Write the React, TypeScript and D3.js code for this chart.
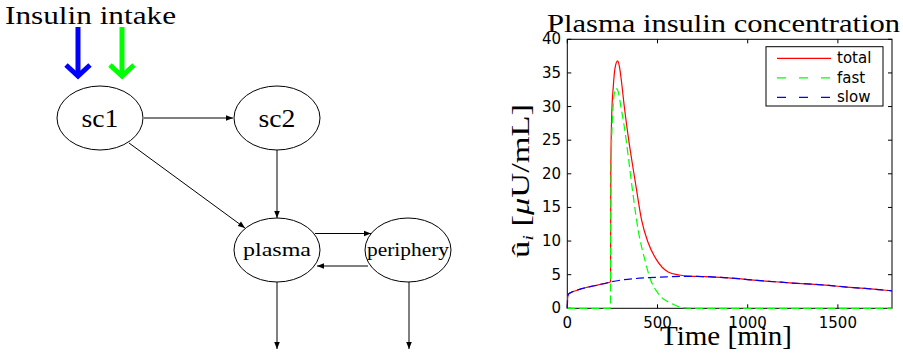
import React from "react";
import * as d3 from "d3";

// ---- Data ----
const totalT = [0, 2, 6, 20, 50, 100, 150, 200, 238, 240, 241, 246, 255, 265, 279, 290, 300, 316, 338, 366, 384, 412, 449, 495, 559, 620, 670, 720, 750, 850, 950, 1050, 1150, 1250, 1350, 1450, 1550, 1650, 1750, 1800];
const totalV = [0, 1.6, 2.1, 2.35, 2.65, 3.05, 3.35, 3.65, 3.9, 3.95, 20, 28.5, 33, 35.8, 36.8, 35.8, 33.8, 30, 25.5, 20.6, 17.6, 13.1, 9.7, 7.2, 5.4, 4.95, 4.78, 4.75, 4.72, 4.6, 4.4, 4.15, 3.95, 3.75, 3.6, 3.4, 3.15, 2.95, 2.72, 2.6];

const fastT = [0, 100, 200, 239, 241, 245, 252, 260, 268, 280, 297, 316, 329, 347, 366, 393, 430, 458, 504, 578, 633, 700, 1000, 1500, 1800];
const fastV = [0, 0, 0, 0, 15, 24, 29, 31.8, 32.7, 32.4, 30, 27, 24.5, 20.6, 16.6, 11.6, 7.2, 4.5, 2.2, 0.7, 0.15, 0, 0, 0, 0];

const slowT = [0, 2, 6, 20, 50, 100, 150, 200, 240, 300, 360, 450, 550, 650, 750, 850, 950, 1050, 1150, 1250, 1350, 1450, 1550, 1650, 1750, 1800];
const slowV = [0, 1.6, 2.1, 2.35, 2.65, 3.05, 3.35, 3.65, 3.92, 4.2, 4.38, 4.55, 4.68, 4.75, 4.72, 4.6, 4.4, 4.15, 3.95, 3.75, 3.6, 3.4, 3.15, 2.95, 2.72, 2.6];

const xTicks = [0, 500, 1000, 1500];
const yTicks = [0, 5, 10, 15, 20, 25, 30, 35, 40];
const legendLabels = ["total", "fast", "slow"];
const seriesColors = ["#ff0000", "#00ff00", "#0000ff"];

const nodes = [
  { id: "sc1", label: "sc1", cx: 100, cy: 118, size: 26, len: 37 },
  { id: "sc2", label: "sc2", cx: 277, cy: 118, size: 26, len: 37 },
  { id: "plasma", label: "plasma", cx: 277, cy: 250, size: 19, len: 68 },
  { id: "periphery", label: "periphery", cx: 408, cy: 250, size: 18, len: 82 },
];

const serif = "'Liberation Serif', 'Times New Roman', serif";
const sans = "'DejaVu Sans', 'Liberation Sans', Arial, sans-serif";

export default function App() {
  const x = d3.scaleLinear().domain([0, 1800]).range([567.3, 892]);
  const y = d3.scaleLinear().domain([0, 40]).range([308.3, 39.3]);
  const [x0, x1] = x.range();
  const [y0, y1] = y.range();

  const line = d3
    .line<[number, number]>()
    .x((d) => x(d[0]))
    .y((d) => y(d[1]))
    .curve(d3.curveMonotoneX);

  const series = [
    { pts: totalT.map((t, i) => [t, totalV[i]] as [number, number]), dash: undefined },
    { pts: fastT.map((t, i) => [t, fastV[i]] as [number, number]), dash: "8,4" },
    { pts: slowT.map((t, i) => [t, slowV[i]] as [number, number]), dash: "8,4" },
  ];

  const tick = 4;

  return (
    <svg
      width={903}
      height={353}
      style={{ position: "absolute", left: 0, top: 0, background: "#fff" }}
    >
      <defs>
        <marker id="ah" viewBox="0 0 10 10" refX="10" refY="5" markerWidth="9" markerHeight="7" markerUnits="userSpaceOnUse" orient="auto">
          <path d="M0,1 L10,5 L0,9 z" fill="#000" />
        </marker>
      </defs>
      <rect x={0} y={0} width={903} height={353} fill="#fff" />

      {/* ---------- Diagram ---------- */}
      <text x={5} y={24} fontFamily={serif} fontSize={25} textLength={171} lengthAdjust="spacingAndGlyphs" fill="#000">
        Insulin intake
      </text>
      {[{ cx: 78, c: "#0000ff" }, { cx: 122, c: "#00ff00" }].map((a, i) => (
        <g key={i} stroke={a.c} strokeWidth={5} fill="none">
          <line x1={a.cx} y1={27} x2={a.cx} y2={75} />
          <polyline points={`${a.cx - 12},65 ${a.cx},76 ${a.cx + 12},65`} strokeLinejoin="miter" />
        </g>
      ))}

      {nodes.map((n) => (
        <g key={n.id}>
          <ellipse cx={n.cx} cy={n.cy} rx={43} ry={32} fill="#fff" stroke="#000" strokeWidth={1} />
          <text
            x={n.cx}
            y={n.cy + (n.size > 20 ? 9 : 6)}
            textAnchor="middle"
            fontFamily={serif}
            fontSize={n.size}
            textLength={n.len}
            lengthAdjust="spacingAndGlyphs"
            fill="#000"
          >
            {n.label}
          </text>
        </g>
      ))}

      <g stroke="#000" strokeWidth={1} markerEnd="url(#ah)">
        <line x1={144} y1={118} x2={233} y2={118} />
        <line x1={129} y1={143} x2={245} y2={228} />
        <line x1={277} y1={150} x2={277} y2={218} />
        <line x1={315} y1={233.5} x2={371} y2={233.5} />
        <line x1={368} y1={266} x2={317} y2={266} />
        <line x1={277} y1={282} x2={277} y2={349} />
        <line x1={409} y1={282} x2={409} y2={349} />
      </g>

      {/* ---------- Chart ---------- */}
      <text x={547} y={32} fontFamily={serif} fontSize={26} textLength={353} lengthAdjust="spacingAndGlyphs" fill="#000">
        Plasma insulin concentration
      </text>

      <rect x={x0} y={y1} width={x1 - x0} height={y0 - y1} fill="#fff" stroke="#000" strokeWidth={1} />

      {xTicks.map((t) => (
        <g key={"xt" + t}>
          <line x1={x(t)} x2={x(t)} y1={y0} y2={y0 - tick} stroke="#000" />
          <line x1={x(t)} x2={x(t)} y1={y1} y2={y1 + tick} stroke="#000" />
          <text x={x(t)} y={328} textAnchor="middle" fontFamily={sans} fontSize={15} fill="#000">
            {t}
          </text>
        </g>
      ))}
      {yTicks.map((t) => (
        <g key={"yt" + t}>
          <line x1={x0} x2={x0 + tick} y1={y(t)} y2={y(t)} stroke="#000" />
          <line x1={x1} x2={x1 - tick} y1={y(t)} y2={y(t)} stroke="#000" />
          <text x={561} y={y(t) + 5} textAnchor="end" fontFamily={sans} fontSize={15} fill="#000">
            {t}
          </text>
        </g>
      ))}

      {series.map((s, i) => (
        <path
          key={"s" + i}
          d={line(s.pts) || ""}
          fill="none"
          stroke={seriesColors[i]}
          strokeWidth={1.2}
          strokeDasharray={s.dash}
        />
      ))}

      {/* Legend */}
      <rect x={766} y={46.7} width={117} height={59.3} fill="#fff" stroke="#000" strokeWidth={1} />
      {legendLabels.map((lab, i) => {
        const ly = 58.3 + i * 19.5;
        return (
          <g key={lab}>
            <line x1={777} x2={831} y1={ly} y2={ly} stroke={seriesColors[i]} strokeWidth={1.2} strokeDasharray={i === 0 ? undefined : "9,13"} />
            <text x={837} y={ly + 5} fontFamily={sans} fontSize={15} fill="#000">
              {lab}
            </text>
          </g>
        );
      })}

      {/* Axis labels */}
      <text x={726} y={345} textAnchor="middle" fontFamily={serif} fontSize={27} textLength={132} lengthAdjust="spacingAndGlyphs" fill="#000">
        Time [min]
      </text>
      <text
        transform="translate(529,258) rotate(-90)"
        fontFamily={serif}
        fontSize={25}
        fill="#000"
        textLength={154}
        lengthAdjust="spacingAndGlyphs"
      >
        û<tspan fontStyle="italic" fontSize={15} dy={4}>i</tspan>
        <tspan dy={-4}>{"  ["}</tspan>
        <tspan fontStyle="italic">μ</tspan>
        <tspan>U/mL]</tspan>
      </text>
    </svg>
  );
}
